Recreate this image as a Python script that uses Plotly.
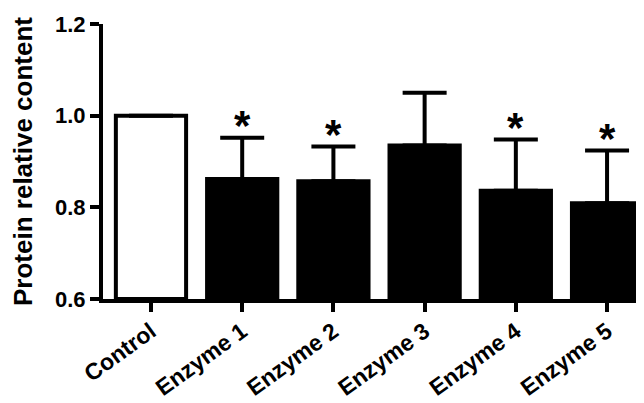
import plotly.graph_objects as go

categories = ["Control", "Enzyme 1", "Enzyme 2", "Enzyme 3", "Enzyme 4", "Enzyme 5"]
means = [1.0, 0.862, 0.857, 0.935, 0.836, 0.809]
errors = [0.0, 0.090, 0.076, 0.115, 0.112, 0.115]
significant = [False, True, True, False, True, True]
y_ticks = [0.6, 0.8, 1.0, 1.2]

fill_colors = ["white" if c == "Control" else "black" for c in categories]

fig = go.Figure()
fig.add_trace(go.Bar(
    x=categories, y=[m - 0.6 for m in means], base=0.6,
    width=0.77,
    marker=dict(color=fill_colors, line=dict(color="black", width=4)),
    error_y=dict(type="data", symmetric=False, array=errors,
                 arrayminus=[0] * len(errors), color="black",
                 thickness=4, width=22, visible=True),
    showlegend=False,
))

for c, m, e, s in zip(categories, means, errors, significant):
    if s:
        fig.add_annotation(x=c, y=m + e, text="<b>*</b>", showarrow=False,
                           yanchor="middle", yshift=12,
                           font=dict(family="Liberation Sans", size=42, color="black"))

fig.update_layout(
    width=636, height=395,
    margin=dict(l=95, r=0, t=16, b=104),
    plot_bgcolor="white", paper_bgcolor="white",
    font=dict(family="Liberation Sans", color="black"),
    xaxis=dict(range=[-0.526, 5.405], showline=True, linecolor="black", linewidth=4,
               ticks="outside", ticklen=9, tickwidth=4, tickcolor="black",
               tickangle=-36, tickfont=dict(size=23, weight="bold"),
               ticklabelstandoff=-3,
               showgrid=False, zeroline=False, automargin=False),
    yaxis=dict(range=[0.6, 1.2], tickvals=y_ticks, ticktext=[f"{v:.1f}" for v in y_ticks],
               showline=True, linecolor="black", linewidth=4,
               ticks="outside", ticklen=9, tickwidth=4, tickcolor="black",
               tickfont=dict(size=22, weight="bold"),
               title=dict(text="Protein relative content", font=dict(size=26, weight="bold"), standoff=16),
               showgrid=False, zeroline=False, automargin=False),
)

fig.write_html("out.html")
